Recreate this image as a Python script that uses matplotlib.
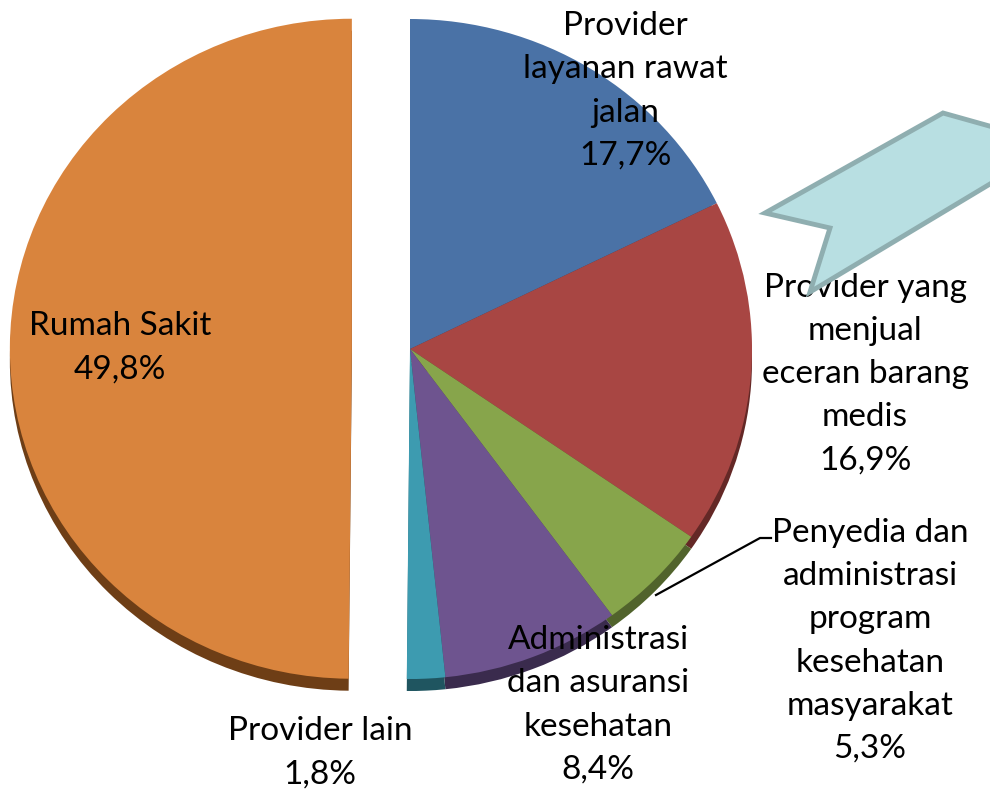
"""Pie chart: distribution of health spending by provider (Indonesian labels)."""

import matplotlib
import matplotlib.pyplot as plt
from matplotlib.patches import Polygon
from matplotlib.transforms import Affine2D

matplotlib.use("Agg")

# data (clockwise from 12 o'clock)
labels = [
    "Provider\nlayanan rawat\njalan",
    "Provider yang\nmenjual\neceran barang\nmedis",
    "Penyedia dan\nadministrasi\nprogram\nkesehatan\nmasyarakat",
    "Administrasi\ndan asuransi\nkesehatan",
    "Provider lain",
    "Rumah Sakit",
]
values = [17.7, 16.9, 5.3, 8.4, 1.8, 49.8]
colors = ["#4A72A6", "#A84643", "#87A54B", "#6E548F", "#3D9BB0", "#D9843D"]
side_colors = ["#2C4567", "#642826", "#51632C", "#3A2B4D", "#1F5560", "#6E3E16"]
explode = [0, 0, 0, 0, 0, 0.17]  # fraction of radius

# label anchor points in pixel coords (top-left origin)
label_pos = [(625, 91), (865, 374), (870, 641), (598, 705), (320, 753), (120, 348)]

W, H = 990, 793
fig = plt.figure(figsize=(W / 100, H / 100), dpi=100)
ax = fig.add_axes([0, 0, 1, 1])

cx, cy, r = 410, H - 349, 342
squash = 330 / 342  # slight tilt of the 3D pie
depth = 12
offsets = [e * r for e in explode]  # pie() takes explode in data units


def tilt(patches, y0):
    t = Affine2D().translate(-cx, -y0).scale(1, squash).translate(cx, y0) + ax.transData
    for p in patches:
        p.set_transform(t)


# darker copy shifted down gives the 3D side band
side, _ = ax.pie(values, colors=side_colors, startangle=90, counterclock=False,
                 explode=offsets, center=(cx, cy - depth), radius=r,
                 wedgeprops=dict(linewidth=0))
tilt(side, cy - depth)
top, _ = ax.pie(values, colors=colors, startangle=90, counterclock=False,
                explode=offsets, center=(cx, cy), radius=r,
                wedgeprops=dict(linewidth=0))
tilt(top, cy)

for lab, v, (x, y) in zip(labels, values, label_pos):
    txt = f"{lab}\n{v:.1f}%".replace(".", ",")
    ax.text(x, H - y, txt, ha="center", va="center", fontsize=24,
            family="Lato", linespacing=1.55, color="black", zorder=5)

# leader line for the small green slice
ax.plot([656, 760, 771], [H - 595, H - 538, H - 538], color="black", lw=1.6, zorder=4)

# callout arrow in the top right corner
arrow_px = [(765, 213), (943, 113), (1000, 129), (1000, 178), (985, 187),
            (810, 292), (830, 228)]
ax.add_patch(Polygon([(x, H - y) for x, y in arrow_px], closed=True,
                     facecolor="#B8DFE2", edgecolor="#8FAEB0", lw=3.5,
                     joinstyle="miter", zorder=6))

ax.set_xlim(0, W)
ax.set_ylim(0, H)
ax.set_aspect("equal")
ax.axis("off")

fig.savefig("out.png", dpi=100)
